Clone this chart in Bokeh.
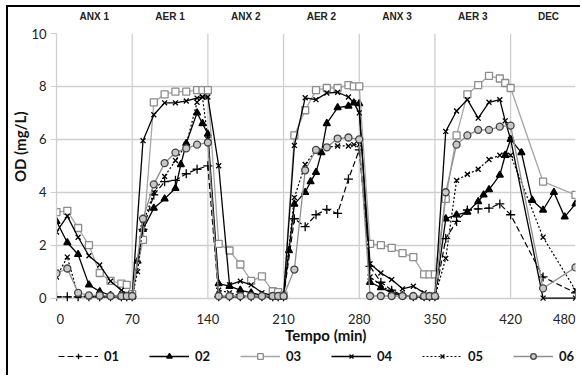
from bokeh.plotting import figure
from bokeh.models import FixedTicker, LinearAxis, Legend, LegendItem, Range1d
from bokeh.core.properties import value
from bokeh.embed import file_html
from bokeh.resources import INLINE

# ---- data ----
phase_pos = [35, 105, 175, 245, 315, 385, 455]
phase_labels = ["ANX 1", "AER 1", "ANX 2", "AER 2", "ANX 3", "AER 3", "DEC"]
x_ticks = [0, 70, 140, 210, 280, 350, 420]
x_last_tick = 480
y_ticks = [0, 2, 4, 6, 8, 10]
x_title = "Tempo (min)"
y_title = "OD (mg/L)"

t01 = [0, 10, 20, 30, 40, 50, 60, 65, 70, 80, 90, 100, 110, 120, 130, 140,
       150, 160, 170, 180, 190, 200, 205, 210, 220, 230, 240, 250, 260, 270, 280,
       290, 300, 310, 320, 330, 340, 345, 350, 360, 370, 380, 390, 400, 410, 420, 450, 480]
v01 = [0.05, 0.05, 0.05, 0.05, 0.05, 0.05, 0.05, 0.05, 0.05, 2.6, 3.9, 4.4, 4.45, 4.7, 4.87, 5.0,
       0.05, 0.05, 0.05, 0.05, 0.05, 0.05, 0.05, 0.05, 3.0, 2.7, 3.15, 3.35, 3.2, 4.5, 5.6,
       1.2, 0.6, 0.3, 0.1, 0.05, 0.05, 0.05, 0.05, 2.25, 2.9, 3.33, 3.37, 3.4, 3.56, 3.15, 0.8, 0.2]

t02 = [0, 10, 20, 30, 40, 50, 60, 65, 70, 75, 80, 90, 100, 110, 115, 120, 130, 135, 140,
       150, 160, 170, 180, 190, 200, 205, 210, 215, 220, 230, 235, 240, 245, 250, 260, 270, 275, 280,
       290, 300, 310, 320, 330, 340, 345, 350, 360, 370, 380, 390, 395, 400, 410, 415, 420, 430,
       440, 450, 460, 470, 480]
v02 = [2.9, 2.1, 1.65, 0.5, 0.25, 0.1, 0.05, 0.05, 0.05, 1.4, 2.6, 3.4, 3.75, 4.15, 5.05, 5.85, 7.0, 6.6, 6.2,
       0.55, 0.45, 0.3, 0.2, 0.1, 0.05, 0.05, 0.05, 1.8, 3.55, 4.0, 4.4, 4.75, 5.5, 6.6, 7.2, 7.26, 7.38, 7.35,
       0.6, 0.4, 0.2, 0.1, 0.05, 0.05, 0.05, 0.05, 3.0, 3.15, 3.25, 3.65, 3.9, 4.1, 4.65, 5.4, 6.0, 5.5,
       3.7, 3.33, 4.0, 3.07, 3.56]

t03 = [0, 10, 20, 30, 40, 50, 60, 65, 70, 80, 90, 100, 110, 120, 130, 135, 140,
       150, 160, 170, 180, 190, 200, 205, 210, 220, 230, 240, 250, 260, 270, 275, 280,
       290, 300, 310, 320, 330, 340, 345, 350, 360, 370, 380, 390, 400, 410, 415, 420, 450, 480]
v03 = [3.25, 3.3, 2.65, 2.0, 0.95, 0.65, 0.55, 0.5, 0.15, 2.2, 7.4, 7.7, 7.8, 7.8, 7.86, 7.86, 7.86,
       2.05, 1.8, 1.27, 0.65, 0.82, 0.26, 0.23, 0.1, 6.15, 7.1, 7.86, 7.94, 7.94, 8.05, 8.0, 8.0,
       2.05, 2.0, 1.9, 1.7, 1.55, 0.9, 0.9, 0.9, 3.75, 6.15, 7.7, 8.05, 8.4, 8.3, 8.13, 7.94, 4.4, 3.9]

t04 = [0, 10, 20, 30, 40, 50, 60, 65, 70, 80, 90, 100, 110, 120, 130, 135, 140,
       150, 160, 170, 180, 190, 200, 205, 210, 220, 230, 240, 250, 260, 270, 275, 280,
       290, 300, 310, 320, 330, 340, 345, 350, 360, 370, 380, 390, 400, 410, 415, 420, 450, 480]
v04 = [2.5, 3.1, 2.3, 1.6, 1.25, 0.64, 0.3, 0.15, 0.1, 5.95, 6.93, 7.38, 7.38, 7.45, 7.56, 7.6, 7.6,
       5.0, 0.5, 0.64, 0.5, 0.2, 0.1, 0.05, 0.05, 5.77, 7.57, 7.5, 7.75, 7.78, 7.6, 7.38, 7.0,
       1.3, 0.95, 0.7, 0.35, 0.45, 0.2, 0.1, 0.1, 6.3, 7.07, 7.5, 6.8, 7.4, 7.5, 6.7, 6.0, 0.0, 0.0]

t05 = [0, 10, 20, 30, 40, 50, 60, 65, 70, 75, 80, 90, 100, 110, 120, 130, 135, 140,
       150, 160, 170, 180, 190, 200, 205, 210, 220, 230, 240, 250, 260, 270, 275, 280,
       290, 300, 310, 320, 330, 340, 345, 350, 360, 370, 380, 390, 400, 410, 415, 420, 450, 480]
v05 = [0.8, 1.55, 0.1, 0.05, 0.05, 0.05, 0.05, 0.05, 0.05, 1.0, 2.8, 4.0, 4.6, 5.2, 5.8, 7.4, 7.6, 6.0,
       0.3, 0.2, 0.1, 0.05, 0.05, 0.05, 0.05, 0.05, 3.8, 5.05, 5.6, 5.7, 5.75, 5.75, 5.8, 5.8,
       0.8, 0.5, 0.2, 0.1, 0.05, 0.05, 0.05, 0.05, 1.5, 4.45, 4.68, 4.87, 5.24, 5.4, 5.4, 5.4, 2.3, 0.3]

t06 = [0, 10, 20, 30, 40, 50, 60, 65, 70, 80, 90, 100, 110, 120, 130, 140,
       150, 160, 170, 180, 190, 200, 205, 210, 220, 230, 240, 250, 260, 270, 280,
       290, 300, 310, 320, 330, 340, 345, 350, 360, 370, 380, 390, 400, 410, 420, 450, 480]
v06 = [0.94, 1.12, 0.2, 0.1, 0.1, 0.08, 0.08, 0.08, 0.08, 3.0, 4.3, 5.1, 5.5, 5.66, 5.8, 5.88,
       0.08, 0.08, 0.08, 0.08, 0.08, 0.08, 0.08, 0.08, 1.08, 4.83, 5.6, 5.7, 6.03, 6.07, 6.0,
       0.08, 0.08, 0.08, 0.08, 0.08, 0.08, 0.08, 0.08, 4.0, 5.8, 6.15, 6.36, 6.36, 6.48, 6.52, 0.37, 1.16]

series_names = ["01", "02", "03", "04", "05", "06"]

FONT = "Lato"
GRID = "#cfcfcf"

# ---- figure: frame extends below 0 to hold the x labels and the legend ----
p = figure(width=574, height=370, x_range=Range1d(0, 480), y_range=Range1d(-3.0, 10),
           output_backend="svg", toolbar_location=None, x_axis_location=None,
           title=y_title, title_location="left",
           min_border_left=42, min_border_right=7, min_border_top=23, min_border_bottom=0)
p.styles = {"border-left": "2px solid black", "border-top": "2px solid black",
            "margin-left": "6px", "margin-top": "5px"}
p.outline_line_color = None
p.background_fill_color = "white"
p.xgrid.visible = False

p.title.align = "right"
p.title.offset = 78
p.title.standoff = 0
p.title.text_font = FONT
p.title.text_font_size = "15px"
p.title.text_font_style = "bold"
p.title.text_color = "#111111"

p.ygrid.ticker = FixedTicker(ticks=y_ticks)
p.ygrid.grid_line_color = GRID
p.ygrid.grid_line_width = 1.3

# vertical grid lines, limited to the value range
p.segment(x0=x_ticks[1:], y0=y_ticks[0], x1=x_ticks[1:], y1=y_ticks[-1],
          line_color=GRID, line_width=1.3)

ya = p.yaxis[0]
ya.ticker = FixedTicker(ticks=y_ticks)
ya.bounds = (y_ticks[0], y_ticks[-1])
ya.axis_line_color = GRID
ya.axis_line_width = 1.3
ya.major_tick_line_color = GRID
ya.major_tick_out = 6
ya.major_tick_in = 0
ya.minor_tick_line_color = None
ya.major_label_standoff = 4
ya.major_label_text_font = FONT
ya.major_label_text_font_size = "13px"
ya.major_label_text_color = "#222222"

top = LinearAxis(ticker=FixedTicker(ticks=phase_pos),
                 major_label_overrides={pos: lab for pos, lab in zip(phase_pos, phase_labels)},
                 axis_line_color=None, major_tick_line_color=None, minor_tick_line_color=None,
                 major_label_standoff=6, major_label_text_font="Liberation Sans",
                 major_label_text_font_size="10px", major_label_text_font_style="bold",
                 major_label_text_color="#222222")
p.add_layout(top, "above")

# x tick labels and title
p.text(x=x_ticks[:1], y=[-0.8], text=[str(x_ticks[0])], text_align="left",
       text_baseline="middle", text_font=value(FONT), text_font_size="13px",
       text_color="#222222")
p.text(x=x_ticks[1:], y=[-0.8] * (len(x_ticks) - 1), text=[str(t) for t in x_ticks[1:]],
       text_align="center", text_baseline="middle", text_font=value(FONT),
       text_font_size="13px", text_color="#222222")
p.text(x=[x_last_tick], y=[-0.8], text=[str(x_last_tick)], text_align="right",
       text_baseline="middle", text_font=value(FONT), text_font_size="13px",
       text_color="#222222")
p.text(x=[249], y=[-1.4], text=[x_title], text_align="center", text_baseline="middle",
       text_font=value(FONT), text_font_size="15px", text_font_style="bold",
       text_color="#111111")

# ---- series ----
styles = [
    dict(t=t01, v=v01, color="black", dash="6 3", lw=1.2, marker="cross", size=9,
         mline="black", mfill="black"),
    dict(t=t02, v=v02, color="black", dash="solid", lw=1.3, marker="triangle", size=7,
         mline="black", mfill="black"),
    dict(t=t03, v=v03, color="#a6a6a6", dash="solid", lw=1.3, marker="square", size=7,
         mline="#8c8c8c", mfill="white"),
    dict(t=t04, v=v04, color="black", dash="solid", lw=1.3, marker="x", size=7,
         mline="black", mfill="black"),
    dict(t=t05, v=v05, color="black", dash="2 2", lw=1.2, marker="x", size=7,
         mline="black", mfill="black"),
    dict(t=t06, v=v06, color="#8f8f8f", dash="solid", lw=1.3, marker="circle", size=7,
         mline="#444444", mfill="#c8c8c8"),
]

items = []
for name, s in zip(series_names, styles):
    lr = p.line(s["t"], s["v"], line_color=s["color"], line_dash=s["dash"], line_width=s["lw"])
    sr = p.scatter(s["t"], s["v"], marker=s["marker"], size=s["size"], line_color=s["mline"],
                   fill_color=s["mfill"], line_width=1.3)
    items.append(LegendItem(label=name, renderers=[lr, sr]))

legend = Legend(items=items, orientation="horizontal", location=(2, 13),
                glyph_width=40, glyph_height=14, label_standoff=6, spacing=25, padding=2,
                margin=0, border_line_color=None, background_fill_alpha=0,
                label_text_font=FONT, label_text_font_size="13px",
                label_text_font_style="bold", label_text_color="#111111")
p.add_layout(legend)

open("out.html", "w").write(file_html(p, INLINE))
